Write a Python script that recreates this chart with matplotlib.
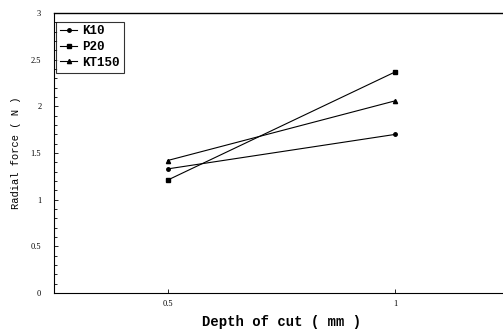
import matplotlib
matplotlib.use("Agg")
import matplotlib.pyplot as plt
from matplotlib.ticker import MultipleLocator

depth = [0.5, 1.0]
series_names = ["K10", "P20", "KT150"]
k10 = [1.33, 1.70]
p20 = [1.21, 2.37]
kt150 = [1.42, 2.06]
yticks = [0, 0.5, 1, 1.5, 2, 2.5, 3]
ytick_labels = ["0", "0.5", "1", "1.5", "2", "2.5", "3"]
xticks = [0.5, 1.0]
xtick_labels = ["0.5", "1"]

fig = plt.figure(figsize=(5.03, 3.36), dpi=100)
ax = fig.add_axes([0.107, 0.128, 0.905, 0.833])

ax.plot(depth, k10, color="black", lw=0.8, marker="o", ms=2.5, label=series_names[0])
ax.plot(depth, p20, color="black", lw=0.8, marker="s", ms=3, label=series_names[1])
ax.plot(depth, kt150, color="black", lw=0.8, marker="^", ms=3, label=series_names[2])

ax.set_xlim(0.25, 1.25)
ax.set_ylim(0, 3)
ax.set_yticks(yticks)
ax.set_yticklabels(ytick_labels, family="Liberation Serif", fontsize=6)
ax.set_xticks(xticks)
ax.set_xticklabels(xtick_labels, family="Liberation Serif", fontsize=6)
ax.yaxis.set_minor_locator(MultipleLocator(0.1))
ax.tick_params(axis="both", which="both", direction="in", length=2, width=0.6)
ax.tick_params(axis="y", which="major", length=3, pad=9)
ax.tick_params(axis="x", which="major", length=3, pad=5)
ax.spines["right"].set_visible(False)
for s in ["left", "bottom"]:
    ax.spines[s].set_linewidth(0.8)
ax.spines["top"].set_linewidth(1.0)

ax.set_xlabel("Depth of cut ( mm )", family="Liberation Mono", fontweight="bold", fontsize=10, labelpad=5)
ax.set_ylabel("Radial force ( N )", family="Liberation Mono", fontsize=7.5, labelpad=7)

leg = ax.legend(loc="upper left", bbox_to_anchor=(0.005, 0.97), prop={"family": "Liberation Mono", "weight": "bold", "size": 9},
                frameon=True, fancybox=False, edgecolor="black", handlelength=1.4, handletextpad=0.4,
                borderpad=0.3, labelspacing=0.3, borderaxespad=0)
leg.get_frame().set_linewidth(0.8)

fig.savefig("out.png", dpi=100)
